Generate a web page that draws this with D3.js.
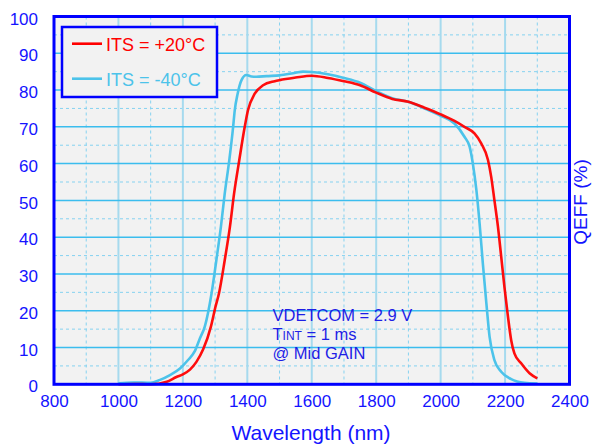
<!DOCTYPE html>
<html>
<head>
<meta charset="utf-8">
<script src="https://cdn.jsdelivr.net/npm/d3@7"></script>
<style>
  body { margin: 0; background: #fff; }
  svg text { font-family: "Liberation Sans", Arial, sans-serif; }
</style>
</head>
<body>
<svg id="chart" width="592" height="448"></svg>
<script>
// tick values
var xTicks = [800, 1000, 1200, 1400, 1600, 1800, 2000, 2200, 2400];
var yTicks = [0, 10, 20, 30, 40, 50, 60, 70, 80, 90, 100];

// ITS = +20°C
var warmWl = [1000, 1050, 1100, 1150, 1180, 1200, 1222, 1242, 1263, 1287, 1301, 1312, 1330, 1346, 1359, 1375, 1392, 1402, 1423, 1449, 1485, 1500, 1550, 1600, 1650, 1700, 1750, 1800, 1850, 1900, 1950, 2000, 2043, 2074, 2105, 2126, 2147, 2157, 2167, 2178, 2188, 2198, 2209, 2219, 2229, 2250, 2276, 2300];
var warmQe = [0, 0.1, 0, 0.7, 2, 2.7, 4, 6.1, 9.5, 15.7, 21, 24.7, 33.8, 42.8, 51.9, 60.9, 70, 74.5, 79, 81.3, 82.4, 82.7, 83.4, 83.9, 83.3, 82.4, 81.3, 79.3, 77.6, 76.8, 75.2, 73.4, 71.6, 70, 68.2, 65.5, 61, 56.4, 50, 42.8, 34.7, 26.5, 18.4, 12, 8.4, 5.7, 3, 1.6];

// ITS = -40°C
var coldWl = [1000, 1046, 1100, 1129, 1160, 1191, 1216, 1237, 1253, 1268, 1289, 1304, 1318, 1330, 1344, 1356, 1361, 1370, 1382, 1397, 1413, 1428, 1460, 1500, 1550, 1573, 1600, 1650, 1700, 1750, 1800, 1850, 1900, 1950, 2000, 2043, 2074, 2090, 2100, 2111, 2121, 2131, 2142, 2152, 2167, 2188, 2219, 2260, 2300];
var coldQe = [0.3, 0.5, 0.4, 1.2, 2.5, 4.3, 6.6, 9, 12.5, 15.7, 24.7, 33.8, 42.8, 51.9, 60.9, 70, 74.5, 79, 82.7, 84.1, 83.7, 83.6, 83.8, 84, 84.7, 85, 84.9, 84.3, 83.3, 82, 79.7, 77.8, 76.8, 75, 73, 70.9, 67.3, 64.6, 60, 52.8, 43.7, 32.9, 22, 12.9, 6.6, 3.4, 1.4, 0.4, 0.2];

var seriesNames = ["ITS = +20°C", "ITS = -40°C"];

var blue = "#1414ff";
var svg = d3.select("#chart");
var margin = {top: 16.5, right: 22.5, bottom: 63.7, left: 54},
    width = 592 - margin.left - margin.right,
    height = 448 - margin.top - margin.bottom;

var x = d3.scaleLinear().domain([800, 2400]).range([0, width]);
var y = d3.scaleLinear().domain([0, 100]).range([height, 0]);

var g = svg.append("g")
  .attr("transform", "translate(" + margin.left + "," + margin.top + ")");

g.append("rect")
  .attr("width", width).attr("height", height)
  .attr("fill", "#f2f2f2");

// minor dashed grid
var xMinor = xTicks.slice(1).map(function(d) { return d - 100; });
var yMinor = yTicks.slice(1).map(function(d) { return d - 5; });

g.selectAll(".vminor").data(xMinor).enter().append("line")
  .attr("x1", d => x(d)).attr("x2", d => x(d))
  .attr("y1", 0).attr("y2", height)
  .attr("stroke", "#86d2f0").attr("stroke-width", 1).attr("stroke-dasharray", "3,3");

g.selectAll(".hminor").data(yMinor).enter().append("line")
  .attr("x1", 0).attr("x2", width)
  .attr("y1", d => y(d)).attr("y2", d => y(d))
  .attr("stroke", "#86d2f0").attr("stroke-width", 1).attr("stroke-dasharray", "3,3");

// major grid
g.selectAll(".vmajor").data(xTicks.slice(1, -1)).enter().append("line")
  .attr("x1", d => x(d)).attr("x2", d => x(d))
  .attr("y1", 0).attr("y2", height)
  .attr("stroke", "#a6daee").attr("stroke-width", 2);

g.selectAll(".hmajor").data(yTicks.slice(1, -1)).enter().append("line")
  .attr("x1", 0).attr("x2", width)
  .attr("y1", d => y(d)).attr("y2", d => y(d))
  .attr("stroke", "#3bbdee").attr("stroke-width", 1.5);

// curves
var line = d3.line()
  .curve(d3.curveMonotoneX)
  .x(d => x(d[0]))
  .y(d => y(d[1]));

var cold = d3.zip(coldWl, coldQe);
var warm = d3.zip(warmWl, warmQe);

g.append("path").datum(cold)
  .attr("d", line).attr("fill", "none")
  .attr("stroke", "#4cc3ea").attr("stroke-width", 2.6).attr("stroke-linejoin", "round");

g.append("path").datum(warm)
  .attr("d", line).attr("fill", "none")
  .attr("stroke", "#ff0000").attr("stroke-width", 2.6).attr("stroke-linejoin", "round")
  .attr("stroke-opacity", 0.95);

// frame
g.append("rect")
  .attr("width", width).attr("height", height)
  .attr("fill", "none").attr("stroke", "#0000ff").attr("stroke-width", 3);

// axes labels
var xAxis = d3.axisBottom(x).tickValues(xTicks).tickFormat(d3.format("d"))
  .tickSize(0).tickPadding(11);
var xa = g.append("g")
  .attr("transform", "translate(0," + height + ")")
  .call(xAxis);
xa.select(".domain").remove();
xa.selectAll("text")
  .attr("fill", blue).style("font-size", "17px")
  .attr("font-family", "Liberation Sans, Arial, sans-serif");

var yAxis = d3.axisLeft(y).tickValues(yTicks).tickFormat(d3.format("d"))
  .tickSize(0).tickPadding(16);
var ya = g.append("g").call(yAxis);
ya.select(".domain").remove();
ya.selectAll("text")
  .attr("fill", blue).style("font-size", "17px")
  .attr("dy", "0.45em")
  .attr("font-family", "Liberation Sans, Arial, sans-serif");

svg.append("text")
  .attr("x", 311).attr("y", 440)
  .attr("text-anchor", "middle")
  .attr("fill", blue).style("font-size", "21px")
  .text("Wavelength (nm)");

svg.append("text")
  .attr("transform", "translate(587,202) rotate(-90)")
  .attr("text-anchor", "middle")
  .attr("fill", blue).style("font-size", "19px")
  .text("QEFF (%)");

// legend
var legend = svg.append("g");
legend.append("rect")
  .attr("x", 62).attr("y", 27).attr("width", 155).attr("height", 70)
  .attr("fill", "#f2f2f2").attr("stroke", "#0000ff").attr("stroke-width", 2.5);

var legColors = ["#ff0000", "#4cc3ea"];
seriesNames.forEach(function(name, i) {
  var ly = 43.7 + i * 35;
  legend.append("line")
    .attr("x1", 72).attr("x2", 102).attr("y1", ly).attr("y2", ly)
    .attr("stroke", legColors[i]).attr("stroke-width", 2.6);
  legend.append("text")
    .attr("x", 106).attr("y", ly + 6.8)
    .attr("fill", legColors[i]).style("font-size", "18px")
    .text(name);
});

// annotation
var noteColor = "#1e1ee6";
var note = svg.append("g").attr("fill", noteColor).style("font-size", "16.5px");
note.append("text").attr("x", 272.5).attr("y", 321).text("VDETCOM = 2.9 V");
var t2 = note.append("text").attr("x", 272.5).attr("y", 340);
t2.append("tspan").text("T");
t2.append("tspan").style("font-size", "12px").text("INT");
t2.append("tspan").text(" = 1 ms");
note.append("text").attr("x", 272.5).attr("y", 359).text("@ Mid GAIN");
</script>
</body>
</html>
